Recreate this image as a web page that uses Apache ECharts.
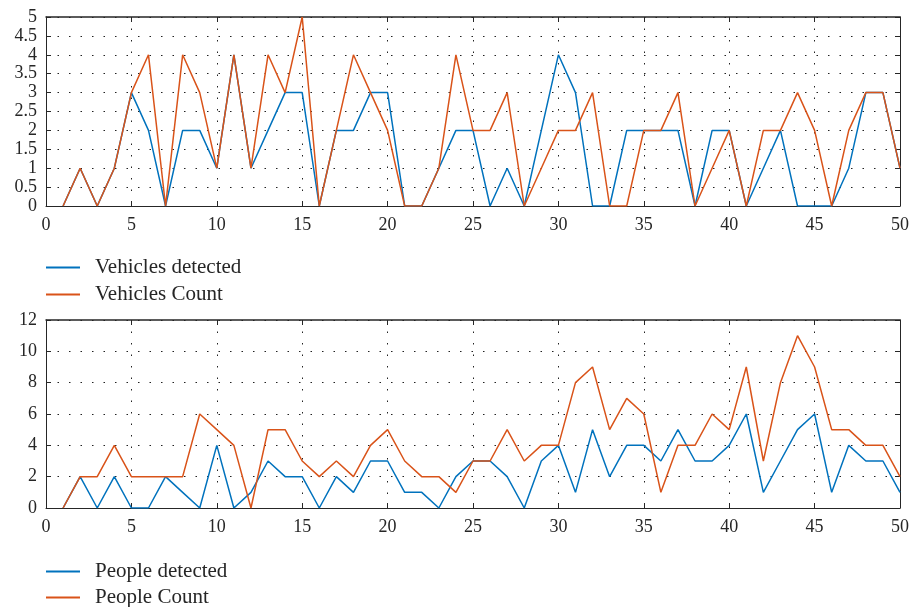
<!DOCTYPE html>
<html><head><meta charset="utf-8">
<script src="https://cdn.jsdelivr.net/npm/echarts@6/dist/echarts.min.js"></script>
<style>html,body{margin:0;padding:0;background:#fff}#c{width:912px;height:607px}</style>
</head><body><div id="c"></div>
<script>
const vehiclesDetected = [0,1,0,1,3,2,0,2,2,1, 4,1,2,3,3,0,2,2,3,3, 0,0,1,2,2,0,1,0,2,4, 3,0,0,2,2,2,2,0,2,2, 0,1,2,0,0,0,1,3,3,1];
const vehiclesCount    = [0,1,0,1,3,4,0,4,3,1, 4,1,4,3,5,0,2,4,3,2, 0,0,1,4,2,2,3,0,1,2, 2,3,0,0,2,2,3,0,1,2, 0,2,2,3,2,0,2,3,3,1];
const peopleDetected   = [0,2,0,2,0,0,2,1,0,4, 0,1,3,2,2,0,2,1,3,3, 1,1,0,2,3,3,2,0,3,4, 1,5,2,4,4,3,5,3,3,4, 6,1,3,5,6,1,4,3,3,1];
const peopleCount      = [0,2,2,4,2,2,2,2,6,5, 4,0,5,5,3,2,3,2,4,5, 3,2,2,1,3,3,5,3,4,4, 8,9,5,7,6,1,4,4,6,5, 9,3,8,11,9,5,5,4,4,2];
const seriesNamesTop = ['Vehicles detected','Vehicles Count'];
const seriesNamesBottom = ['People detected','People Count'];
const BLUE = '#0072BD', ORANGE = '#D95319';
const FONT = 'Liberation Serif';
const TXT = '#262626';
const toPairs = arr => arr.map((v,i)=>[i+1,v]);

const gridDots = {show:true, lineStyle:{color:'#222', width:1, type:[1.5,10]}};
function xAxes(gi){
  return [
    {gridIndex:gi, type:'value', min:0, max:50, interval:5, position:'bottom',
     axisLine:{show:true, onZero:false, lineStyle:{color:TXT,width:1}},
     axisTick:{show:true, inside:true, length:5, lineStyle:{color:TXT}},
     axisLabel:{fontFamily:FONT, fontSize:18, color:TXT, margin:10},
     splitLine:gridDots},
    {gridIndex:gi, type:'value', min:0, max:50, interval:5, position:'top',
     axisLine:{show:true, onZero:false, lineStyle:{color:TXT,width:1.5}},
     axisTick:{show:true, inside:true, length:5, lineStyle:{color:TXT}},
     axisLabel:{show:false}, splitLine:{show:false}}
  ];
}
function yAxes(gi, max, interval){
  return [
    {gridIndex:gi, type:'value', min:0, max:max, interval:interval, position:'left',
     axisLine:{show:true, onZero:false, lineStyle:{color:TXT,width:1}},
     axisTick:{show:true, inside:true, length:5, lineStyle:{color:TXT}},
     axisLabel:{fontFamily:FONT, fontSize:18, color:TXT, margin:9},
     splitLine:gridDots},
    {gridIndex:gi, type:'value', min:0, max:max, interval:interval, position:'right',
     axisLine:{show:true, onZero:false, lineStyle:{color:TXT,width:1}},
     axisTick:{show:true, inside:true, length:5, lineStyle:{color:TXT}},
     axisLabel:{show:false}, splitLine:{show:false}}
  ];
}
function lineSeries(name, data, color, xi, yi){
  return {name, type:'line', xAxisIndex:xi, yAxisIndex:yi, data:toPairs(data),
    showSymbol:false, symbol:'none', animation:false, color:color,
    lineStyle:{color:color, width:1.5}, z:color===ORANGE?3:2};
}
function legend(names, top, gap){
  return {data:names, orient:'vertical', left:46, top:top, padding:0, icon:'rect', itemWidth:34, itemHeight:2,
    itemGap:gap, height:60,
    textStyle:{fontFamily:FONT, fontSize:21, color:TXT, padding:[0,0,0,10]}};
}
const chart = echarts.init(document.getElementById('c'), null, {renderer:'canvas'});
chart.setOption({
  animation:false,
  backgroundColor:'#fff',
  grid:[{left:46, top:17, width:855, height:189},{left:46, top:320, width:855, height:188}],
  xAxis:[...xAxes(0), ...xAxes(1)],
  yAxis:[...yAxes(0,5,0.5), ...yAxes(1,12,2)],
  legend:[legend(seriesNamesTop,257,6), legend(seriesNamesBottom,561,5)],
  series:[
    lineSeries(seriesNamesTop[0], vehiclesDetected, BLUE, 0, 0),
    lineSeries(seriesNamesTop[1], vehiclesCount, ORANGE, 0, 0),
    lineSeries(seriesNamesBottom[0], peopleDetected, BLUE, 2, 2),
    lineSeries(seriesNamesBottom[1], peopleCount, ORANGE, 2, 2)
  ]
});
</script></body></html>
